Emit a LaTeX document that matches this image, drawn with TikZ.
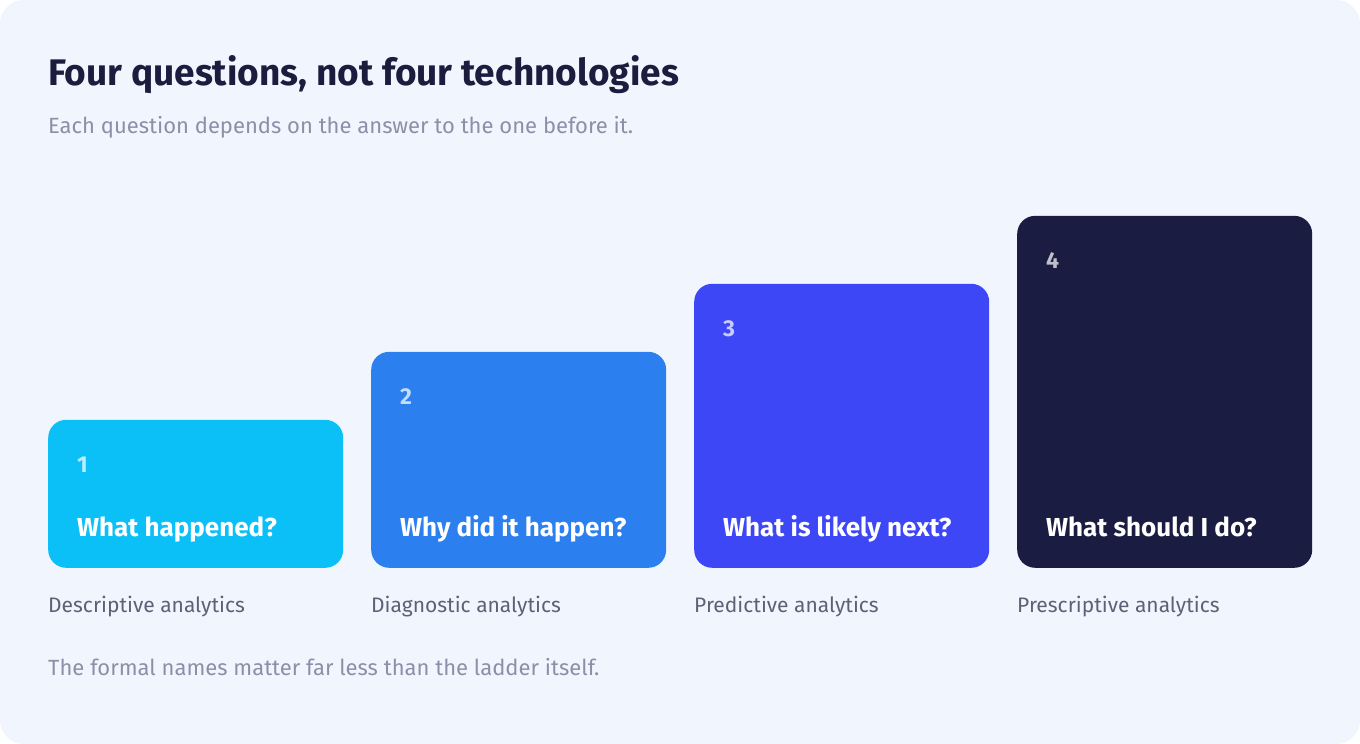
\documentclass[tikz,border=0pt]{standalone}
\usepackage{fontspec}
\setmainfont{Fira Sans}
\usetikzlibrary{positioning}
\definecolor{pagebg}{HTML}{F1F6FE}
\definecolor{inkdark}{HTML}{1B1D3F}
\definecolor{inksub}{HTML}{8A90A8}
\definecolor{inklabel}{HTML}{5B6276}
\definecolor{stepone}{HTML}{0BC0F7}
\definecolor{steptwo}{HTML}{2C7FEE}
\definecolor{stepthree}{HTML}{3D47F5}
\definecolor{stepfour}{HTML}{1B1C41}

\begin{document}
\begin{tikzpicture}[x=1pt,y=-1pt,
    rung/.style={rectangle,rounded corners=18pt,inner sep=0pt,minimum width=295pt,anchor=south west},
    num/.style={anchor=base west,inner sep=0pt,text=white,text opacity=0.72,font=\fontsize{23}{23}\selectfont\bfseries},
    question/.style={anchor=base west,inner sep=0pt,text=white,font=\fontsize{26}{26}\selectfont\bfseries},
    kind/.style={anchor=base west,inner sep=0pt,text=inklabel,font=\fontsize{21}{21}\selectfont}]
  \fill[white] (0,0) rectangle (1360,744);
  \fill[pagebg,rounded corners=24pt] (0,0) rectangle (1360,744);
  \useasboundingbox (0,0) rectangle (1360,744);
  % heading
  \node (title) [anchor=base west,inner sep=0pt,text=inkdark,font=\fontsize{37}{37}\selectfont\bfseries] at (48,85) {Four questions, not four technologies};
  \node (sub) [anchor=base west,inner sep=0pt,text=inksub,font=\fontsize{22}{22}\selectfont] at (48,133) {Each question depends on the answer to the one before it.};
  % the four rungs
  \node (r1) [rung,fill=stepone,minimum height=148pt] at (48,568) {};
  \node (r2) [rung,fill=steptwo,minimum height=216pt] at (371,568) {};
  \node (r3) [rung,fill=stepthree,minimum height=284pt] at (694,568) {};
  \node (r4) [rung,fill=stepfour,minimum height=352pt] at (1017,568) {};
  \node (n1) [num] at ([xshift=29pt,yshift=-53pt]r1.north west) {1};
  \node (n2) [num] at ([xshift=29pt,yshift=-53pt]r2.north west) {2};
  \node (n3) [num] at ([xshift=29pt,yshift=-53pt]r3.north west) {3};
  \node (n4) [num] at ([xshift=29pt,yshift=-53pt]r4.north west) {4};
  \node (q1) [question] at ([xshift=29pt,yshift=32pt]r1.south west) {What happened?};
  \node (q2) [question] at ([xshift=29pt,yshift=32pt]r2.south west) {Why did it happen?};
  \node (q3) [question] at ([xshift=29pt,yshift=32pt]r3.south west) {What is likely next?};
  \node (q4) [question] at ([xshift=29pt,yshift=32pt]r4.south west) {What should I do?};
  \node (k1) [kind] at ([yshift=-44pt]r1.south west) {Descriptive analytics};
  \node (k2) [kind] at ([yshift=-44pt]r2.south west) {Diagnostic analytics};
  \node (k3) [kind] at ([yshift=-44pt]r3.south west) {Predictive analytics};
  \node (k4) [kind] at ([yshift=-44pt]r4.south west) {Prescriptive analytics};
  % closing note
  \node (note) [anchor=base west,inner sep=0pt,text=inksub,font=\fontsize{22}{22}\selectfont] at (48,675) {The formal names matter far less than the ladder itself.};
\end{tikzpicture}
\end{document}
